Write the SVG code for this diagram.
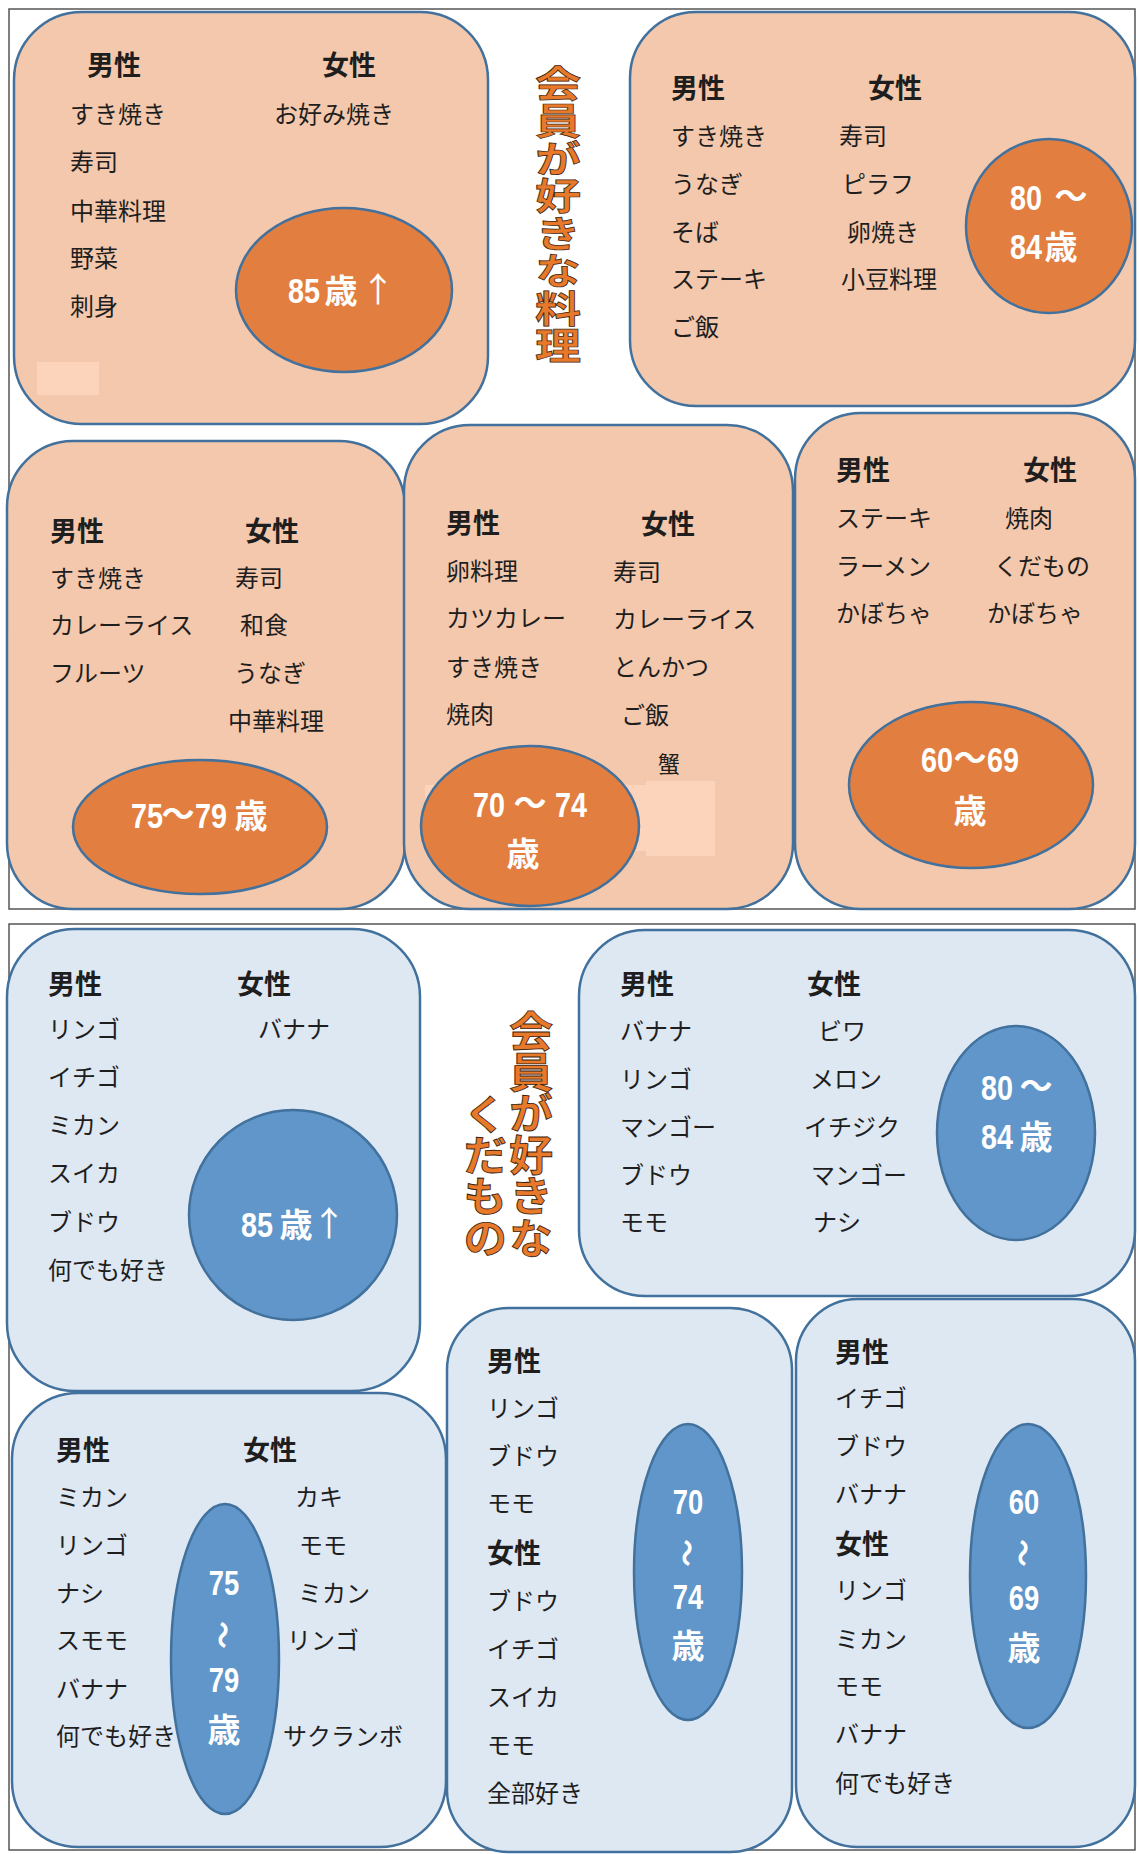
<svg xmlns="http://www.w3.org/2000/svg" width="1139" height="1854" viewBox="0 0 1139 1854">
<style>
.frame{fill:#fff;stroke:#555;stroke-width:1.5}
.bo{fill:#F4C8AC;stroke:#41719C;stroke-width:2.5}
.bb{fill:#DEE8F3;stroke:#41719C;stroke-width:2.5}
.eo{fill:#E27E40;stroke:#41719C;stroke-width:2.5}
.eb{fill:#6096C9;stroke:#41719C;stroke-width:2.5}
.pale{fill:#FBD4BB}
.h{font-family:"Noto Sans CJK JP",sans-serif;font-weight:bold;font-size:27px;fill:#1e1e1e}
.t{font-family:"Noto Sans CJK JP",sans-serif;font-size:24px;fill:#1e1e1e}
.n{font-family:"Liberation Sans","Arial",sans-serif;font-weight:bold;font-size:36px;fill:#fff;text-anchor:middle}
.k{font-family:"Noto Sans CJK JP",sans-serif;font-weight:bold;font-size:33px;fill:#fff;text-anchor:middle}
.a{font-family:"Noto Sans CJK JP",sans-serif;font-size:34px;fill:#fff;text-anchor:middle}
.w{font-family:"Noto Sans CJK JP",sans-serif;font-weight:bold;font-size:28px;fill:#fff;text-anchor:middle;dominant-baseline:central}
.ti{font-family:"Noto Sans CJK JP",sans-serif;font-weight:bold;fill:#E8792B;stroke:#3b2410;stroke-width:0.9;writing-mode:vertical-rl}
</style>

<rect class="frame" x="9" y="9" width="1126" height="900"/>
<rect class="frame" x="9" y="924" width="1126" height="926"/>

<g id="title-food">
<text class="ti" style="font-size:46px" transform="translate(558,65) scale(1,0.815)" x="0" y="0">会員が好きな料理</text>
</g>

<g id="food-85">
<rect class="bo" x="14" y="12" width="474" height="412" rx="68"/>
<rect class="pale" x="37" y="362" width="62" height="33"/>
<text class="h" x="87" y="75">男性</text>
<text class="h" x="322" y="75">女性</text>
<text class="t" x="70" y="123">すき焼き</text>
<text class="t" x="70" y="171">寿司</text>
<text class="t" x="70" y="220">中華料理</text>
<text class="t" x="70" y="267">野菜</text>
<text class="t" x="70" y="315">刺身</text>
<text class="t" x="274" y="123">お好み焼き</text>
<ellipse class="eo" cx="344" cy="290" rx="108" ry="82"/>
<text class="n" transform="translate(304,303) scale(0.8,1)">85</text>
<text class="k" x="341" y="303">歳</text>
<text class="a" x="378" y="302">↑</text>
</g>

<g id="food-80">
<rect class="bo" x="630" y="12" width="505" height="394" rx="66"/>
<text class="h" x="671" y="98">男性</text>
<text class="h" x="868" y="98">女性</text>
<text class="t" x="671" y="145">すき焼き</text>
<text class="t" x="671" y="193">うなぎ</text>
<text class="t" x="671" y="241">そば</text>
<text class="t" x="671" y="288">ステーキ</text>
<text class="t" x="671" y="336">ご飯</text>
<text class="t" x="839" y="145">寿司</text>
<text class="t" x="842" y="193">ピラフ</text>
<text class="t" x="847" y="241">卵焼き</text>
<text class="t" x="841" y="288">小豆料理</text>
<ellipse class="eo" cx="1049" cy="226" rx="83" ry="87"/>
<text class="n" transform="translate(1026,210) scale(0.8,1)">80</text>
<text class="k" x="1071" y="208">～</text>
<text class="n" transform="translate(1026,259) scale(0.8,1)">84</text>
<text class="k" x="1061" y="259">歳</text>
</g>

<g id="food-75">
<rect class="bo" x="7" y="441" width="398" height="468" rx="66"/>
<text class="h" x="50" y="541">男性</text>
<text class="h" x="245" y="541">女性</text>
<text class="t" x="50" y="587">すき焼き</text>
<text class="t" x="50" y="634">カレーライス</text>
<text class="t" x="50" y="682">フルーツ</text>
<text class="t" x="235" y="587">寿司</text>
<text class="t" x="240" y="634">和食</text>
<text class="t" x="234" y="682">うなぎ</text>
<text class="t" x="228" y="730">中華料理</text>
<ellipse class="eo" cx="200" cy="827" rx="127" ry="67"/>
<text class="n" transform="translate(147,828) scale(0.8,1)">75</text>
<text class="k" x="178" y="826">～</text>
<text class="n" transform="translate(211,828) scale(0.8,1)">79</text>
<text class="k" x="251" y="828">歳</text>
</g>

<g id="food-70">
<rect class="bo" x="404" y="425" width="389" height="484" rx="66"/>
<rect class="pale" x="425" y="785" width="221" height="66"/>
<rect class="pale" x="646" y="781" width="69" height="75"/>
<text class="h" x="446" y="533">男性</text>
<text class="t" x="446" y="580">卵料理</text>
<text class="t" x="446" y="627">カツカレー</text>
<text class="t" x="446" y="676">すき焼き</text>
<text class="t" x="446" y="723">焼肉</text>
<text class="h" x="641" y="534">女性</text>
<text class="t" x="613" y="581">寿司</text>
<text class="t" x="613" y="628">カレーライス</text>
<text class="t" x="613" y="676">とんかつ</text>
<text class="t" x="621" y="724">ご飯</text>
<text class="t" x="658" y="772" style="font-size:22px">蟹</text>
<ellipse class="eo" cx="530" cy="826" rx="109" ry="80"/>
<text class="n" transform="translate(489,817) scale(0.8,1)">70</text>
<text class="k" x="530" y="815">～</text>
<text class="n" transform="translate(571,817) scale(0.8,1)">74</text>
<text class="k" x="523" y="866">歳</text>
</g>

<g id="food-60">
<rect class="bo" x="795" y="413" width="340" height="496" rx="66"/>
<text class="h" x="836" y="480">男性</text>
<text class="h" x="1023" y="480">女性</text>
<text class="t" x="836" y="527">ステーキ</text>
<text class="t" x="836" y="575">ラーメン</text>
<text class="t" x="836" y="622">かぼちゃ</text>
<text class="t" x="1005" y="527">焼肉</text>
<text class="t" x="994" y="575">くだもの</text>
<text class="t" x="987" y="622">かぼちゃ</text>
<ellipse class="eo" cx="971" cy="785" rx="122" ry="83"/>
<text class="n" transform="translate(937,772) scale(0.8,1)">60</text>
<text class="k" x="970" y="770">～</text>
<text class="n" transform="translate(1003,772) scale(0.8,1)">69</text>
<text class="k" x="970" y="823">歳</text>
</g>

<g id="title-fruit">
<text class="ti" style="font-size:44px" transform="translate(531,1010) scale(1,0.943)" x="0" y="0">会員が好きな</text>
<text class="ti" style="font-size:44px" transform="translate(485,1093) scale(1,0.943)" x="0" y="0">くだもの</text>
</g>

<g id="fruit-85">
<rect class="bb" x="7" y="929" width="413" height="462" rx="68"/>
<text class="h" x="48" y="994">男性</text>
<text class="h" x="237" y="994">女性</text>
<text class="t" x="48" y="1038">リンゴ</text>
<text class="t" x="48" y="1086">イチゴ</text>
<text class="t" x="48" y="1134">ミカン</text>
<text class="t" x="48" y="1182">スイカ</text>
<text class="t" x="48" y="1231">ブドウ</text>
<text class="t" x="48" y="1279">何でも好き</text>
<text class="t" x="258" y="1038">バナナ</text>
<ellipse class="eb" cx="293" cy="1215" rx="104" ry="105"/>
<text class="n" transform="translate(257,1237) scale(0.8,1)">85</text>
<text class="k" x="296" y="1237">歳</text>
<text class="a" x="329" y="1236">↑</text>
</g>

<g id="fruit-80">
<rect class="bb" x="579" y="930" width="556" height="366" rx="66"/>
<text class="h" x="620" y="994">男性</text>
<text class="h" x="807" y="994">女性</text>
<text class="t" x="620" y="1040">バナナ</text>
<text class="t" x="620" y="1088">リンゴ</text>
<text class="t" x="620" y="1136">マンゴー</text>
<text class="t" x="620" y="1184">ブドウ</text>
<text class="t" x="620" y="1231">モモ</text>
<text class="t" x="818" y="1040">ビワ</text>
<text class="t" x="810" y="1088">メロン</text>
<text class="t" x="804" y="1136">イチジク</text>
<text class="t" x="811" y="1184">マンゴー</text>
<text class="t" x="813" y="1231">ナシ</text>
<ellipse class="eb" cx="1016" cy="1133" rx="79" ry="107"/>
<text class="n" transform="translate(997,1100) scale(0.8,1)">80</text>
<text class="k" x="1036" y="1098">～</text>
<text class="n" transform="translate(997,1149) scale(0.8,1)">84</text>
<text class="k" x="1036" y="1149">歳</text>
</g>

<g id="fruit-75">
<rect class="bb" x="12" y="1393" width="434" height="454" rx="66"/>
<text class="h" x="56" y="1460">男性</text>
<text class="h" x="243" y="1460">女性</text>
<text class="t" x="56" y="1506">ミカン</text>
<text class="t" x="56" y="1554">リンゴ</text>
<text class="t" x="56" y="1602">ナシ</text>
<text class="t" x="56" y="1649">スモモ</text>
<text class="t" x="56" y="1698">バナナ</text>
<text class="t" x="56" y="1745">何でも好き</text>
<text class="t" x="295" y="1506">カキ</text>
<text class="t" x="299" y="1554">モモ</text>
<text class="t" x="298" y="1602">ミカン</text>
<text class="t" x="287" y="1649">リンゴ</text>
<text class="t" x="283" y="1745">サクランボ</text>
<ellipse class="eb" cx="225" cy="1659" rx="54" ry="155"/>
<text class="n" transform="translate(224,1595) scale(0.76,1)">75</text>
<text class="w" transform="translate(224,1635) rotate(90)">～</text>
<text class="n" transform="translate(224,1692) scale(0.76,1)">79</text>
<text class="k" x="224" y="1742">歳</text>
</g>

<g id="fruit-70">
<rect class="bb" x="447" y="1308" width="345" height="544" rx="62"/>
<text class="h" x="487" y="1371">男性</text>
<text class="t" x="487" y="1417">リンゴ</text>
<text class="t" x="487" y="1465">ブドウ</text>
<text class="t" x="487" y="1512">モモ</text>
<text class="h" x="487" y="1563">女性</text>
<text class="t" x="487" y="1610">ブドウ</text>
<text class="t" x="487" y="1658">イチゴ</text>
<text class="t" x="487" y="1706">スイカ</text>
<text class="t" x="487" y="1754">モモ</text>
<text class="t" x="487" y="1802">全部好き</text>
<ellipse class="eb" cx="688" cy="1572" rx="54" ry="148"/>
<text class="n" transform="translate(688,1514) scale(0.76,1)">70</text>
<text class="w" transform="translate(688,1553) rotate(90)">～</text>
<text class="n" transform="translate(688,1609) scale(0.76,1)">74</text>
<text class="k" x="688" y="1658">歳</text>
</g>

<g id="fruit-60">
<rect class="bb" x="796" y="1299" width="339" height="548" rx="62"/>
<text class="h" x="835" y="1362">男性</text>
<text class="t" x="835" y="1407">イチゴ</text>
<text class="t" x="835" y="1455">ブドウ</text>
<text class="t" x="835" y="1503">バナナ</text>
<text class="h" x="835" y="1554">女性</text>
<text class="t" x="835" y="1599">リンゴ</text>
<text class="t" x="835" y="1648">ミカン</text>
<text class="t" x="835" y="1695">モモ</text>
<text class="t" x="835" y="1743">バナナ</text>
<text class="t" x="835" y="1792">何でも好き</text>
<ellipse class="eb" cx="1028" cy="1576" rx="58" ry="152"/>
<text class="n" transform="translate(1024,1514) scale(0.76,1)">60</text>
<text class="w" transform="translate(1024,1553) rotate(90)">～</text>
<text class="n" transform="translate(1024,1610) scale(0.76,1)">69</text>
<text class="k" x="1024" y="1660">歳</text>
</g>
</svg>
